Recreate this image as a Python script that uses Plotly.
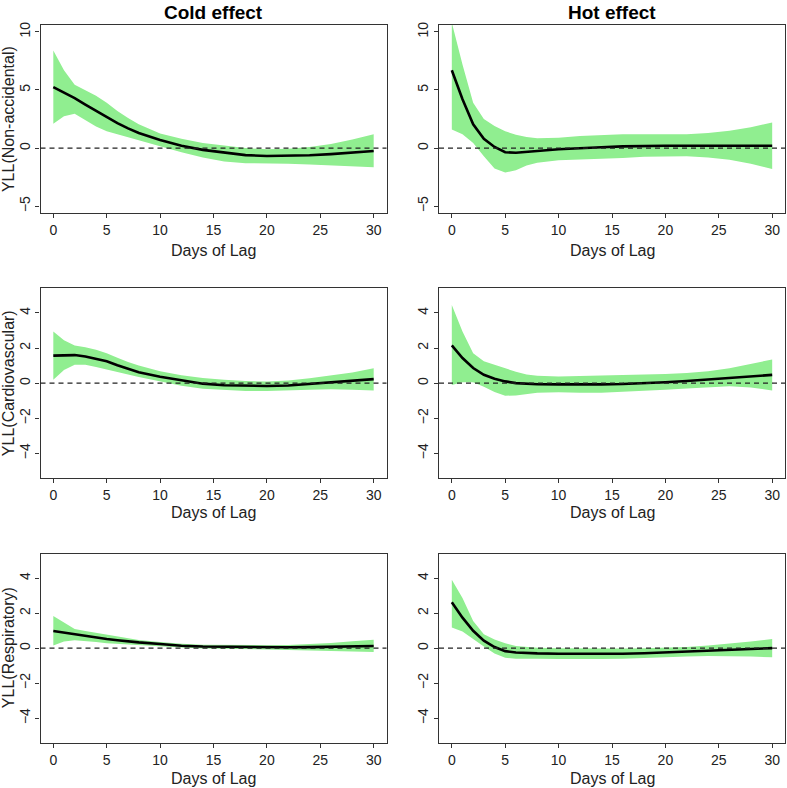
import plotly.graph_objects as go

W, H = 787, 788

lags = [0, 1, 2, 3, 4, 5, 6, 7, 8, 10, 12, 14, 16, 18, 20, 22, 24, 26, 28, 30]

# Cold effect, Non-accidental
cold_nonacc_est = [5.25, 4.8, 4.3, 3.75, 3.2, 2.65, 2.15, 1.7, 1.3, 0.7, 0.2, -0.15, -0.4, -0.6, -0.68, -0.68, -0.62, -0.52, -0.4, -0.25]
cold_nonacc_hi = [8.4, 6.7, 5.45, 5.0, 4.5, 3.9, 3.2, 2.6, 2.05, 1.25, 0.8, 0.45, 0.2, 0.0, -0.1, -0.05, 0.1, 0.35, 0.75, 1.2]
cold_nonacc_lo = [2.1, 2.75, 2.95, 2.4, 1.85, 1.45, 1.15, 0.9, 0.65, 0.15, -0.35, -0.8, -1.15, -1.3, -1.35, -1.35, -1.4, -1.45, -1.55, -1.65]

# Hot effect, Non-accidental
hot_nonacc_est = [6.7, 4.2, 2.05, 0.8, 0.1, -0.35, -0.4, -0.35, -0.25, -0.1, 0.02, 0.08, 0.15, 0.2, 0.2, 0.2, 0.2, 0.2, 0.2, 0.2]
hot_nonacc_hi = [10.8, 7.2, 3.9, 2.5, 1.9, 1.45, 1.15, 0.95, 0.85, 0.9, 1.05, 1.15, 1.2, 1.2, 1.2, 1.2, 1.3, 1.5, 1.8, 2.2]
hot_nonacc_lo = [1.6, 1.2, 0.45, -0.7, -1.75, -2.1, -1.9, -1.5, -1.25, -1.05, -0.95, -0.9, -0.85, -0.75, -0.7, -0.7, -0.8, -1.0, -1.35, -1.8]

# Cold effect, Cardiovascular
cold_cvd_est = [1.57, 1.59, 1.6, 1.52, 1.4, 1.25, 1.02, 0.8, 0.62, 0.37, 0.15, -0.03, -0.12, -0.16, -0.16, -0.13, -0.05, 0.03, 0.12, 0.23]
cold_cvd_hi = [2.95, 2.45, 2.15, 2.05, 1.9, 1.7, 1.45, 1.2, 1.0, 0.68, 0.45, 0.3, 0.2, 0.12, 0.1, 0.15, 0.28, 0.42, 0.6, 0.85]
cold_cvd_lo = [0.2, 0.75, 1.05, 1.05, 0.92, 0.78, 0.62, 0.5, 0.35, 0.08, -0.15, -0.32, -0.4, -0.45, -0.45, -0.42, -0.38, -0.35, -0.38, -0.42]

# Hot effect, Cardiovascular
hot_cvd_est = [2.15, 1.43, 0.86, 0.48, 0.25, 0.1, 0.0, -0.04, -0.06, -0.07, -0.08, -0.07, -0.05, -0.01, 0.05, 0.12, 0.2, 0.28, 0.38, 0.47]
hot_cvd_hi = [4.45, 2.95, 1.7, 1.25, 1.05, 0.85, 0.65, 0.5, 0.42, 0.38, 0.4, 0.42, 0.45, 0.5, 0.52, 0.58, 0.68, 0.85, 1.08, 1.35]
hot_cvd_lo = [-0.1, 0.05, 0.05, -0.2, -0.5, -0.72, -0.7, -0.62, -0.55, -0.52, -0.55, -0.55, -0.5, -0.45, -0.38, -0.3, -0.22, -0.18, -0.25, -0.42]

# Cold effect, Respiratory
cold_resp_est = [0.98, 0.88, 0.78, 0.68, 0.6, 0.52, 0.45, 0.38, 0.33, 0.24, 0.14, 0.09, 0.07, 0.05, 0.05, 0.05, 0.06, 0.08, 0.11, 0.12]
cold_resp_hi = [1.83, 1.45, 1.1, 0.98, 0.88, 0.78, 0.65, 0.55, 0.47, 0.35, 0.25, 0.2, 0.18, 0.17, 0.17, 0.18, 0.22, 0.3, 0.4, 0.48]
cold_resp_lo = [0.15, 0.38, 0.45, 0.42, 0.35, 0.28, 0.24, 0.2, 0.17, 0.1, 0.03, -0.02, -0.05, -0.07, -0.08, -0.1, -0.12, -0.14, -0.18, -0.22]

# Hot effect, Respiratory
hot_resp_est = [2.62, 1.74, 0.99, 0.43, 0.06, -0.17, -0.25, -0.28, -0.3, -0.32, -0.33, -0.33, -0.32, -0.29, -0.25, -0.2, -0.15, -0.1, -0.05, 0.0]
hot_resp_hi = [3.9, 2.86, 1.55, 0.8, 0.5, 0.28, 0.12, 0.05, 0.02, 0.0, -0.02, -0.02, -0.02, 0.0, 0.02, 0.07, 0.15, 0.25, 0.38, 0.52]
hot_resp_lo = [1.18, 0.95, 0.55, 0.1, -0.3, -0.55, -0.6, -0.6, -0.6, -0.62, -0.63, -0.62, -0.6, -0.57, -0.53, -0.48, -0.45, -0.45, -0.48, -0.52]

col_titles = ["Cold effect", "Hot effect"]
row_titles = ["YLL(Non-accidental)", "YLL(Cardiovascular)", "YLL(Respiratory)"]
x_title = "Days of Lag"
x_ticks = [0, 5, 10, 15, 20, 25, 30]
y_ticks_top = [-5, 0, 5, 10]
y_ticks_other = [-4, -2, 0, 2, 4]

panels = [
    (cold_nonacc_est, cold_nonacc_hi, cold_nonacc_lo),
    (hot_nonacc_est, hot_nonacc_hi, hot_nonacc_lo),
    (cold_cvd_est, cold_cvd_hi, cold_cvd_lo),
    (hot_cvd_est, hot_cvd_hi, hot_cvd_lo),
    (cold_resp_est, cold_resp_hi, cold_resp_lo),
    (hot_resp_est, hot_resp_hi, hot_resp_lo),
]

# pixel boxes of plot areas
col_px = [(40.5, 386.5), (439, 785)]
row_px = [(22, 211), (286.5, 476.7), (552.7, 742.5)]
xlab_y = [248, 511, 778]

FONT = "Liberation Sans, Arial, Helvetica, sans-serif"
fig = go.Figure()
layout = {}
shapes = []
annotations = []

for i, (est, hi, lo) in enumerate(panels):
    r, c = divmod(i, 2)
    n = i + 1
    xa = "x" if n == 1 else f"x{n}"
    ya = "y" if n == 1 else f"y{n}"
    # band
    fig.add_trace(go.Scatter(
        x=lags + lags[::-1], y=hi + lo[::-1], fill="toself",
        fillcolor="#90EE90", line=dict(width=0, color="rgba(0,0,0,0)"),
        mode="lines", hoverinfo="skip", showlegend=False, xaxis=xa, yaxis=ya))
    fig.add_trace(go.Scatter(
        x=lags, y=est, mode="lines", line=dict(color="black", width=2.6),
        showlegend=False, xaxis=xa, yaxis=ya))
    x0, x1 = col_px[c]
    y0, y1 = row_px[r]
    yr = [-5.6, 10.6] if r == 0 else [-5.4, 5.4]
    ytv = y_ticks_top if r == 0 else y_ticks_other
    common = dict(showline=True, mirror=True, linecolor="#333", linewidth=1.2,
                  ticks="outside", ticklen=4, tickcolor="#333", tickwidth=1.2,
                  showgrid=False, zeroline=False,
                  tickfont=dict(family=FONT, size=14, color="#222"))
    layout["xaxis" if n == 1 else f"xaxis{n}"] = dict(
        domain=[x0 / W, x1 / W], range=[-1.2, 31.2], tickvals=x_ticks,
        anchor=ya, **common)
    layout["yaxis" if n == 1 else f"yaxis{n}"] = dict(
        domain=[1 - y1 / H, 1 - y0 / H], range=yr, tickvals=ytv,
        tickangle=-90, anchor=xa, **common)
    xref_dom = f"{xa} domain"
    shapes.append(dict(type="line", xref=xref_dom, yref=ya, x0=0, x1=1, y0=0, y1=0,
                       line=dict(color="#222", width=1.4, dash="5px,4px"), layer="above"))
    annotations.append(dict(text=x_title, x=(x0 + x1) / 2 / W, y=1 - xlab_y[r] / H,
                            xref="paper", yref="paper", showarrow=False,
                            xanchor="center", yanchor="middle",
                            font=dict(family=FONT, size=16, color="#222")))

for c, t in enumerate(col_titles):
    x0, x1 = col_px[c]
    annotations.append(dict(text=f"<b>{t}</b>", x=(x0 + x1) / 2 / W, y=1 - 10 / H,
                            xref="paper", yref="paper", showarrow=False,
                            xanchor="center", yanchor="middle",
                            font=dict(family=FONT, size=19, color="black")))
for r, t in enumerate(row_titles):
    y0, y1 = row_px[r]
    annotations.append(dict(text=t, x=8 / W, y=1 - (y0 + y1) / 2 / H,
                            xref="paper", yref="paper", showarrow=False, textangle=-90,
                            xanchor="center", yanchor="middle",
                            font=dict(family=FONT, size=16, color="#222")))

fig.update_layout(width=W, height=H, margin=dict(l=0, r=0, t=0, b=0),
                  paper_bgcolor="white", plot_bgcolor="white",
                  shapes=shapes, annotations=annotations, **layout)
fig.write_html("out.html", config={"displayModeBar": False},
               post_script="document.body.style.margin='0';document.body.style.overflow='hidden';")
